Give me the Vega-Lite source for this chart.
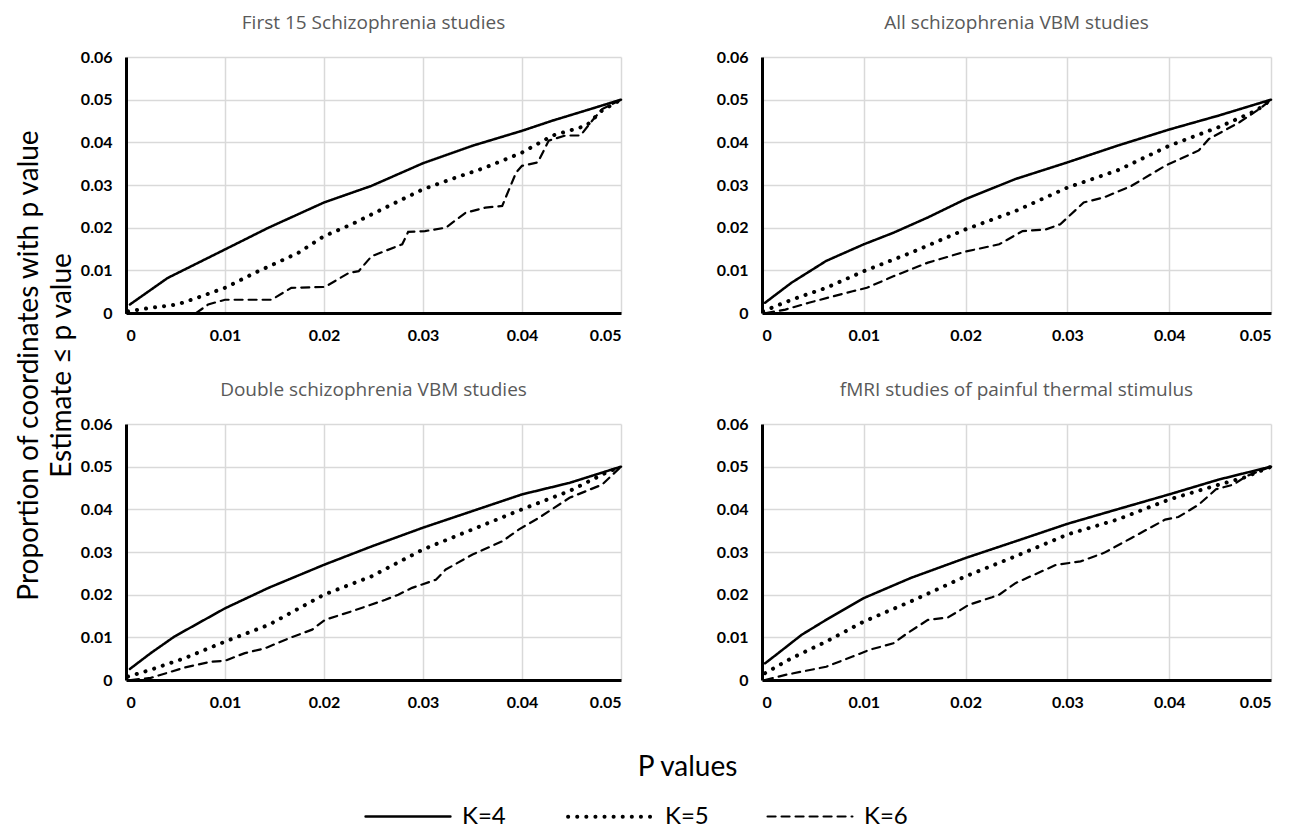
{
  "$schema": "https://vega.github.io/schema/vega-lite/v6.json",
  "background": "white",
  "padding": {"left": 15, "top": 14, "right": 10, "bottom": 5},
  "config": {
    "view": {"stroke": null},
    "font": "Lato",
    "title": {"font": "Open Sans", "fontSize": 19, "fontWeight": "normal", "color": "#595959", "offset": 16},
    "axis": {
      "domainColor": "black", "domainWidth": 3, "ticks": false,
      "gridColor": "#d9d9d9", "gridWidth": 1.5,
      "labelFont": "Lato", "labelFontWeight": "bold", "labelFontSize": 16, "labelColor": "black",
      "titleFont": "Lato", "titleFontWeight": "normal", "titleColor": "black", "titleFontSize": 28
    },
    "legend": {"labelFont": "Lato", "labelFontSize": 24, "labelColor": "black"}
  },
  "datasets": {
    "d": [
      {"panel": 1, "K": "K=4", "p": 0.0004, "v": 0.002},
      {"panel": 1, "K": "K=4", "p": 0.0042, "v": 0.0082},
      {"panel": 1, "K": "K=4", "p": 0.01, "v": 0.0149},
      {"panel": 1, "K": "K=4", "p": 0.0144, "v": 0.020},
      {"panel": 1, "K": "K=4", "p": 0.02, "v": 0.0259},
      {"panel": 1, "K": "K=4", "p": 0.0248, "v": 0.0298},
      {"panel": 1, "K": "K=4", "p": 0.03, "v": 0.0351},
      {"panel": 1, "K": "K=4", "p": 0.035, "v": 0.0392},
      {"panel": 1, "K": "K=4", "p": 0.04, "v": 0.0427},
      {"panel": 1, "K": "K=4", "p": 0.0431, "v": 0.0451},
      {"panel": 1, "K": "K=4", "p": 0.0465, "v": 0.0475},
      {"panel": 1, "K": "K=4", "p": 0.05, "v": 0.05},
      {"panel": 1, "K": "K=5", "p": 0.0002, "v": 0.0004},
      {"panel": 1, "K": "K=5", "p": 0.0025, "v": 0.0012},
      {"panel": 1, "K": "K=5", "p": 0.0052, "v": 0.002},
      {"panel": 1, "K": "K=5", "p": 0.0071, "v": 0.0035},
      {"panel": 1, "K": "K=5", "p": 0.01, "v": 0.0059},
      {"panel": 1, "K": "K=5", "p": 0.013, "v": 0.0094},
      {"panel": 1, "K": "K=5", "p": 0.0174, "v": 0.0141},
      {"panel": 1, "K": "K=5", "p": 0.02, "v": 0.018},
      {"panel": 1, "K": "K=5", "p": 0.0228, "v": 0.0208},
      {"panel": 1, "K": "K=5", "p": 0.0262, "v": 0.0247},
      {"panel": 1, "K": "K=5", "p": 0.03, "v": 0.029},
      {"panel": 1, "K": "K=5", "p": 0.0329, "v": 0.0314},
      {"panel": 1, "K": "K=5", "p": 0.0363, "v": 0.0341},
      {"panel": 1, "K": "K=5", "p": 0.04, "v": 0.0376},
      {"panel": 1, "K": "K=5", "p": 0.0431, "v": 0.0416},
      {"panel": 1, "K": "K=5", "p": 0.0465, "v": 0.0439},
      {"panel": 1, "K": "K=5", "p": 0.0481, "v": 0.0475},
      {"panel": 1, "K": "K=5", "p": 0.05, "v": 0.05},
      {"panel": 1, "K": "K=6", "p": 0.0, "v": 0.0},
      {"panel": 1, "K": "K=6", "p": 0.0071, "v": 0.0},
      {"panel": 1, "K": "K=6", "p": 0.0083, "v": 0.002},
      {"panel": 1, "K": "K=6", "p": 0.01, "v": 0.0031},
      {"panel": 1, "K": "K=6", "p": 0.0147, "v": 0.0031},
      {"panel": 1, "K": "K=6", "p": 0.0167, "v": 0.0059},
      {"panel": 1, "K": "K=6", "p": 0.0201, "v": 0.0061},
      {"panel": 1, "K": "K=6", "p": 0.0225, "v": 0.0094},
      {"panel": 1, "K": "K=6", "p": 0.0235, "v": 0.0098},
      {"panel": 1, "K": "K=6", "p": 0.0248, "v": 0.0133},
      {"panel": 1, "K": "K=6", "p": 0.0279, "v": 0.0161},
      {"panel": 1, "K": "K=6", "p": 0.0285, "v": 0.019},
      {"panel": 1, "K": "K=6", "p": 0.0302, "v": 0.0192},
      {"panel": 1, "K": "K=6", "p": 0.0323, "v": 0.020},
      {"panel": 1, "K": "K=6", "p": 0.0343, "v": 0.0235},
      {"panel": 1, "K": "K=6", "p": 0.0363, "v": 0.0247},
      {"panel": 1, "K": "K=6", "p": 0.038, "v": 0.0251},
      {"panel": 1, "K": "K=6", "p": 0.0394, "v": 0.0329},
      {"panel": 1, "K": "K=6", "p": 0.04, "v": 0.0345},
      {"panel": 1, "K": "K=6", "p": 0.0416, "v": 0.0353},
      {"panel": 1, "K": "K=6", "p": 0.0427, "v": 0.0404},
      {"panel": 1, "K": "K=6", "p": 0.0444, "v": 0.0416},
      {"panel": 1, "K": "K=6", "p": 0.0459, "v": 0.0416},
      {"panel": 1, "K": "K=6", "p": 0.0471, "v": 0.0451},
      {"panel": 1, "K": "K=6", "p": 0.0481, "v": 0.0478},
      {"panel": 1, "K": "K=6", "p": 0.05, "v": 0.05},

      {"panel": 2, "K": "K=4", "p": 0.0003, "v": 0.0024},
      {"panel": 2, "K": "K=4", "p": 0.0029, "v": 0.0071},
      {"panel": 2, "K": "K=4", "p": 0.0063, "v": 0.0122},
      {"panel": 2, "K": "K=4", "p": 0.01, "v": 0.0161},
      {"panel": 2, "K": "K=4", "p": 0.0129, "v": 0.0188},
      {"panel": 2, "K": "K=4", "p": 0.0163, "v": 0.0224},
      {"panel": 2, "K": "K=4", "p": 0.02, "v": 0.0267},
      {"panel": 2, "K": "K=4", "p": 0.0249, "v": 0.0314},
      {"panel": 2, "K": "K=4", "p": 0.03, "v": 0.0353},
      {"panel": 2, "K": "K=4", "p": 0.0349, "v": 0.0392},
      {"panel": 2, "K": "K=4", "p": 0.04, "v": 0.043},
      {"panel": 2, "K": "K=4", "p": 0.0449, "v": 0.0463},
      {"panel": 2, "K": "K=4", "p": 0.05, "v": 0.05},
      {"panel": 2, "K": "K=5", "p": 0.0001, "v": 0.0004},
      {"panel": 2, "K": "K=5", "p": 0.0029, "v": 0.0031},
      {"panel": 2, "K": "K=5", "p": 0.0063, "v": 0.0059},
      {"panel": 2, "K": "K=5", "p": 0.01, "v": 0.0098},
      {"panel": 2, "K": "K=5", "p": 0.0146, "v": 0.0141},
      {"panel": 2, "K": "K=5", "p": 0.02, "v": 0.0196},
      {"panel": 2, "K": "K=5", "p": 0.0249, "v": 0.0239},
      {"panel": 2, "K": "K=5", "p": 0.03, "v": 0.0294},
      {"panel": 2, "K": "K=5", "p": 0.0349, "v": 0.0334},
      {"panel": 2, "K": "K=5", "p": 0.04, "v": 0.0392},
      {"panel": 2, "K": "K=5", "p": 0.0449, "v": 0.0436},
      {"panel": 2, "K": "K=5", "p": 0.0486, "v": 0.0475},
      {"panel": 2, "K": "K=5", "p": 0.05, "v": 0.05},
      {"panel": 2, "K": "K=6", "p": 0.0004, "v": 0.0},
      {"panel": 2, "K": "K=6", "p": 0.0023, "v": 0.0008},
      {"panel": 2, "K": "K=6", "p": 0.0046, "v": 0.0024},
      {"panel": 2, "K": "K=6", "p": 0.0089, "v": 0.0051},
      {"panel": 2, "K": "K=6", "p": 0.0103, "v": 0.0059},
      {"panel": 2, "K": "K=6", "p": 0.0129, "v": 0.0086},
      {"panel": 2, "K": "K=6", "p": 0.0163, "v": 0.0118},
      {"panel": 2, "K": "K=6", "p": 0.02, "v": 0.0144},
      {"panel": 2, "K": "K=6", "p": 0.0233, "v": 0.0161},
      {"panel": 2, "K": "K=6", "p": 0.0256, "v": 0.0192},
      {"panel": 2, "K": "K=6", "p": 0.0279, "v": 0.0196},
      {"panel": 2, "K": "K=6", "p": 0.0293, "v": 0.0208},
      {"panel": 2, "K": "K=6", "p": 0.0316, "v": 0.0259},
      {"panel": 2, "K": "K=6", "p": 0.0336, "v": 0.0271},
      {"panel": 2, "K": "K=6", "p": 0.0363, "v": 0.0298},
      {"panel": 2, "K": "K=6", "p": 0.0396, "v": 0.0345},
      {"panel": 2, "K": "K=6", "p": 0.0429, "v": 0.0381},
      {"panel": 2, "K": "K=6", "p": 0.0439, "v": 0.0408},
      {"panel": 2, "K": "K=6", "p": 0.0469, "v": 0.0447},
      {"panel": 2, "K": "K=6", "p": 0.0489, "v": 0.0479},
      {"panel": 2, "K": "K=6", "p": 0.05, "v": 0.05},

      {"panel": 3, "K": "K=4", "p": 0.0004, "v": 0.0026},
      {"panel": 3, "K": "K=4", "p": 0.0025, "v": 0.0063},
      {"panel": 3, "K": "K=4", "p": 0.0049, "v": 0.0102},
      {"panel": 3, "K": "K=4", "p": 0.01, "v": 0.0168},
      {"panel": 3, "K": "K=4", "p": 0.0144, "v": 0.0216},
      {"panel": 3, "K": "K=4", "p": 0.02, "v": 0.027},
      {"panel": 3, "K": "K=4", "p": 0.0248, "v": 0.0313},
      {"panel": 3, "K": "K=4", "p": 0.03, "v": 0.0357},
      {"panel": 3, "K": "K=4", "p": 0.035, "v": 0.0396},
      {"panel": 3, "K": "K=4", "p": 0.04, "v": 0.0435},
      {"panel": 3, "K": "K=4", "p": 0.0448, "v": 0.0462},
      {"panel": 3, "K": "K=4", "p": 0.05, "v": 0.05},
      {"panel": 3, "K": "K=5", "p": 0.0002, "v": 0.0008},
      {"panel": 3, "K": "K=5", "p": 0.0025, "v": 0.0024},
      {"panel": 3, "K": "K=5", "p": 0.0059, "v": 0.0051},
      {"panel": 3, "K": "K=5", "p": 0.01, "v": 0.009},
      {"panel": 3, "K": "K=5", "p": 0.0144, "v": 0.0129},
      {"panel": 3, "K": "K=5", "p": 0.02, "v": 0.02},
      {"panel": 3, "K": "K=5", "p": 0.0248, "v": 0.0243},
      {"panel": 3, "K": "K=5", "p": 0.03, "v": 0.0306},
      {"panel": 3, "K": "K=5", "p": 0.035, "v": 0.0353},
      {"panel": 3, "K": "K=5", "p": 0.04, "v": 0.04},
      {"panel": 3, "K": "K=5", "p": 0.0448, "v": 0.0443},
      {"panel": 3, "K": "K=5", "p": 0.0485, "v": 0.0486},
      {"panel": 3, "K": "K=5", "p": 0.05, "v": 0.05},
      {"panel": 3, "K": "K=6", "p": 0.0005, "v": 0.0},
      {"panel": 3, "K": "K=6", "p": 0.0025, "v": 0.0005},
      {"panel": 3, "K": "K=6", "p": 0.0059, "v": 0.0029},
      {"panel": 3, "K": "K=6", "p": 0.0086, "v": 0.0043},
      {"panel": 3, "K": "K=6", "p": 0.01, "v": 0.0045},
      {"panel": 3, "K": "K=6", "p": 0.012, "v": 0.0063},
      {"panel": 3, "K": "K=6", "p": 0.014, "v": 0.0074},
      {"panel": 3, "K": "K=6", "p": 0.0167, "v": 0.01},
      {"panel": 3, "K": "K=6", "p": 0.0188, "v": 0.0118},
      {"panel": 3, "K": "K=6", "p": 0.0201, "v": 0.0141},
      {"panel": 3, "K": "K=6", "p": 0.0228, "v": 0.0161},
      {"panel": 3, "K": "K=6", "p": 0.0262, "v": 0.0188},
      {"panel": 3, "K": "K=6", "p": 0.0275, "v": 0.02},
      {"panel": 3, "K": "K=6", "p": 0.0289, "v": 0.0216},
      {"panel": 3, "K": "K=6", "p": 0.0313, "v": 0.0235},
      {"panel": 3, "K": "K=6", "p": 0.0323, "v": 0.0259},
      {"panel": 3, "K": "K=6", "p": 0.035, "v": 0.0294},
      {"panel": 3, "K": "K=6", "p": 0.038, "v": 0.0325},
      {"panel": 3, "K": "K=6", "p": 0.0397, "v": 0.0353},
      {"panel": 3, "K": "K=6", "p": 0.0417, "v": 0.038},
      {"panel": 3, "K": "K=6", "p": 0.0448, "v": 0.0427},
      {"panel": 3, "K": "K=6", "p": 0.0481, "v": 0.0458},
      {"panel": 3, "K": "K=6", "p": 0.05, "v": 0.05},

      {"panel": 4, "K": "K=4", "p": 0.0003, "v": 0.0039},
      {"panel": 4, "K": "K=4", "p": 0.0016, "v": 0.0063},
      {"panel": 4, "K": "K=4", "p": 0.0039, "v": 0.0106},
      {"panel": 4, "K": "K=4", "p": 0.0063, "v": 0.0141},
      {"panel": 4, "K": "K=4", "p": 0.01, "v": 0.0192},
      {"panel": 4, "K": "K=4", "p": 0.0146, "v": 0.0239},
      {"panel": 4, "K": "K=4", "p": 0.02, "v": 0.0286},
      {"panel": 4, "K": "K=4", "p": 0.0249, "v": 0.0325},
      {"panel": 4, "K": "K=4", "p": 0.03, "v": 0.0366},
      {"panel": 4, "K": "K=4", "p": 0.0349, "v": 0.04},
      {"panel": 4, "K": "K=4", "p": 0.04, "v": 0.0435},
      {"panel": 4, "K": "K=4", "p": 0.0449, "v": 0.047},
      {"panel": 4, "K": "K=4", "p": 0.05, "v": 0.05},
      {"panel": 4, "K": "K=5", "p": 0.0003, "v": 0.0016},
      {"panel": 4, "K": "K=5", "p": 0.0029, "v": 0.0051},
      {"panel": 4, "K": "K=5", "p": 0.0063, "v": 0.009},
      {"panel": 4, "K": "K=5", "p": 0.01, "v": 0.0137},
      {"panel": 4, "K": "K=5", "p": 0.0146, "v": 0.0184},
      {"panel": 4, "K": "K=5", "p": 0.02, "v": 0.0243},
      {"panel": 4, "K": "K=5", "p": 0.0249, "v": 0.029},
      {"panel": 4, "K": "K=5", "p": 0.03, "v": 0.0341},
      {"panel": 4, "K": "K=5", "p": 0.0349, "v": 0.0376},
      {"panel": 4, "K": "K=5", "p": 0.04, "v": 0.0423},
      {"panel": 4, "K": "K=5", "p": 0.0449, "v": 0.0458},
      {"panel": 4, "K": "K=5", "p": 0.0473, "v": 0.0474},
      {"panel": 4, "K": "K=5", "p": 0.05, "v": 0.05},
      {"panel": 4, "K": "K=6", "p": 0.0003, "v": 0.0},
      {"panel": 4, "K": "K=6", "p": 0.0023, "v": 0.0012},
      {"panel": 4, "K": "K=6", "p": 0.0063, "v": 0.0031},
      {"panel": 4, "K": "K=6", "p": 0.0089, "v": 0.0055},
      {"panel": 4, "K": "K=6", "p": 0.0106, "v": 0.0071},
      {"panel": 4, "K": "K=6", "p": 0.0129, "v": 0.0086},
      {"panel": 4, "K": "K=6", "p": 0.0143, "v": 0.011},
      {"panel": 4, "K": "K=6", "p": 0.0163, "v": 0.0141},
      {"panel": 4, "K": "K=6", "p": 0.0183, "v": 0.0147},
      {"panel": 4, "K": "K=6", "p": 0.0203, "v": 0.0176},
      {"panel": 4, "K": "K=6", "p": 0.0226, "v": 0.0194},
      {"panel": 4, "K": "K=6", "p": 0.0233, "v": 0.02},
      {"panel": 4, "K": "K=6", "p": 0.0249, "v": 0.0227},
      {"panel": 4, "K": "K=6", "p": 0.0289, "v": 0.027},
      {"panel": 4, "K": "K=6", "p": 0.0313, "v": 0.0278},
      {"panel": 4, "K": "K=6", "p": 0.0336, "v": 0.0298},
      {"panel": 4, "K": "K=6", "p": 0.0363, "v": 0.0333},
      {"panel": 4, "K": "K=6", "p": 0.0396, "v": 0.0376},
      {"panel": 4, "K": "K=6", "p": 0.0409, "v": 0.0382},
      {"panel": 4, "K": "K=6", "p": 0.0429, "v": 0.0411},
      {"panel": 4, "K": "K=6", "p": 0.0446, "v": 0.0447},
      {"panel": 4, "K": "K=6", "p": 0.0463, "v": 0.0458},
      {"panel": 4, "K": "K=6", "p": 0.0476, "v": 0.0478},
      {"panel": 4, "K": "K=6", "p": 0.05, "v": 0.05}
    ]
  },
  "data": {"name": "d"},
  "columns": 2,
  "bounds": "flush",
  "spacing": {"row": 111, "column": 141},
  "resolve": {"scale": {"strokeDash": "shared", "strokeWidth": "shared"}},
  "concat": [
    {
      "title": "First 15 Schizophrenia studies",
      "width": 495, "height": 256,
      "transform": [{"filter": "datum.panel == 1"}],
      "mark": {"type": "line", "strokeCap": "round", "color": "black"},
      "encoding": {
        "x": {"field": "p", "type": "quantitative", "scale": {"domain": [0, 0.05], "nice": false},
              "axis": {"values": [0, 0.01, 0.02, 0.03, 0.04, 0.05], "format": "~g", "title": null, "labelPadding": 14}},
        "y": {"field": "v", "type": "quantitative", "scale": {"domain": [0, 0.06], "nice": false},
              "axis": {"values": [0, 0.01, 0.02, 0.03, 0.04, 0.05, 0.06], "format": "~g", "labelPadding": 14,
                       "title": ["Proportion of coordinates with p value", "Estimate ≤ p value"],
                       "titleX": -97, "titleY": 308, "titleAlign": "center", "titleBaseline": "middle", "titleAngle": -90, "titleLineHeight": 33}},
        "strokeDash": {"field": "K", "type": "nominal",
                       "scale": {"domain": ["K=4", "K=5", "K=6"], "range": [[1, 0], [0.1, 9], [8, 6]]},
                       "legend": {"orient": "none", "legendX": 238, "legendY": 715, "direction": "horizontal", "title": null,
                                  "symbolType": "stroke", "symbolSize": 7200, "symbolStrokeWidth": 3, "symbolStrokeColor": "black",
                                  "columnPadding": 54, "labelOffset": 10,
                                  "encoding": {"symbols": {"strokeCap": {"value": "round"}, "strokeWidth": {"value": 3.5}}}}},
        "strokeWidth": {"field": "K", "type": "nominal", "scale": {"type": "ordinal", "domain": ["K=4", "K=5", "K=6"], "range": [2.5, 4, 2.2]}, "legend": null}
      }
    },
    {
      "title": "All schizophrenia VBM studies",
      "width": 509, "height": 256,
      "transform": [{"filter": "datum.panel == 2"}],
      "mark": {"type": "line", "strokeCap": "round", "color": "black"},
      "encoding": {
        "x": {"field": "p", "type": "quantitative", "scale": {"domain": [0, 0.05], "nice": false},
              "axis": {"values": [0, 0.01, 0.02, 0.03, 0.04, 0.05], "format": "~g", "title": null, "labelPadding": 14}},
        "y": {"field": "v", "type": "quantitative", "scale": {"domain": [0, 0.06], "nice": false},
              "axis": {"values": [0, 0.01, 0.02, 0.03, 0.04, 0.05, 0.06], "format": "~g", "labelPadding": 14, "title": null}},
        "strokeDash": {"field": "K", "type": "nominal", "scale": {"domain": ["K=4", "K=5", "K=6"], "range": [[1, 0], [0.1, 9], [8, 6]]}},
        "strokeWidth": {"field": "K", "type": "nominal", "scale": {"type": "ordinal", "domain": ["K=4", "K=5", "K=6"], "range": [2.5, 4, 2.2]}, "legend": null}
      }
    },
    {
      "title": "Double schizophrenia VBM studies",
      "width": 495, "height": 256,
      "transform": [{"filter": "datum.panel == 3"}],
      "mark": {"type": "line", "strokeCap": "round", "color": "black"},
      "encoding": {
        "x": {"field": "p", "type": "quantitative", "scale": {"domain": [0, 0.05], "nice": false},
              "axis": {"values": [0, 0.01, 0.02, 0.03, 0.04, 0.05], "format": "~g", "labelPadding": 14,
                       "title": "P values", "titleX": 561, "titleY": 87, "titleAlign": "center", "titleBaseline": "middle", "titleFontSize": 28}},
        "y": {"field": "v", "type": "quantitative", "scale": {"domain": [0, 0.06], "nice": false},
              "axis": {"values": [0, 0.01, 0.02, 0.03, 0.04, 0.05, 0.06], "format": "~g", "labelPadding": 14, "title": null}},
        "strokeDash": {"field": "K", "type": "nominal", "scale": {"domain": ["K=4", "K=5", "K=6"], "range": [[1, 0], [0.1, 9], [8, 6]]}},
        "strokeWidth": {"field": "K", "type": "nominal", "scale": {"type": "ordinal", "domain": ["K=4", "K=5", "K=6"], "range": [2.5, 4, 2.2]}, "legend": null}
      }
    },
    {
      "title": "fMRI studies of painful thermal stimulus",
      "width": 509, "height": 256,
      "transform": [{"filter": "datum.panel == 4"}],
      "mark": {"type": "line", "strokeCap": "round", "color": "black"},
      "encoding": {
        "x": {"field": "p", "type": "quantitative", "scale": {"domain": [0, 0.05], "nice": false},
              "axis": {"values": [0, 0.01, 0.02, 0.03, 0.04, 0.05], "format": "~g", "title": null, "labelPadding": 14}},
        "y": {"field": "v", "type": "quantitative", "scale": {"domain": [0, 0.06], "nice": false},
              "axis": {"values": [0, 0.01, 0.02, 0.03, 0.04, 0.05, 0.06], "format": "~g", "labelPadding": 14, "title": null}},
        "strokeDash": {"field": "K", "type": "nominal", "scale": {"domain": ["K=4", "K=5", "K=6"], "range": [[1, 0], [0.1, 9], [8, 6]]}},
        "strokeWidth": {"field": "K", "type": "nominal", "scale": {"type": "ordinal", "domain": ["K=4", "K=5", "K=6"], "range": [2.5, 4, 2.2]}, "legend": null}
      }
    }
  ]
}
